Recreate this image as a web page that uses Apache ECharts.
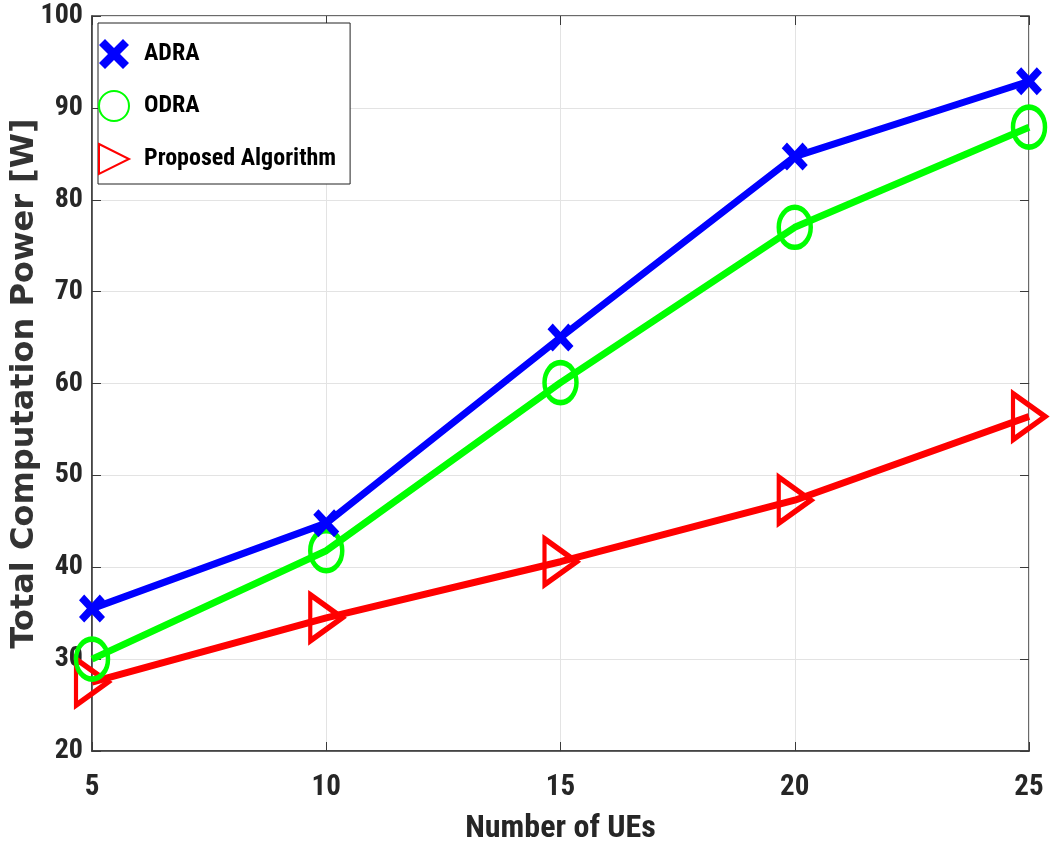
<!DOCTYPE html>
<html>
<head>
<meta charset="utf-8">
<script src="https://cdn.jsdelivr.net/npm/echarts@6/dist/echarts.min.js"></script>
<style>
  html, body { margin: 0; padding: 0; background: #fff; }
  #main { width: 1053px; height: 855px; }
</style>
</head>
<body>
<div id="main"></div>
<script>
const ues = [5, 10, 15, 20, 25];
const adra = [35.5, 44.8, 65, 84.7, 92.9];
const odra = [30, 41.8, 60.1, 77, 87.9];
const proposed = [27.5, 34.5, 40.6, 47.3, 56.4];
const yTicks = [20, 30, 40, 50, 60, 70, 80, 90, 100];

const font = "'Roboto Condensed', 'Liberation Sans', sans-serif";
const crossPath = 'path://M2,0 L5,3 L8,0 L10,2 L7,5 L10,8 L8,10 L5,7 L2,10 L0,8 L3,5 L0,2 Z';
const triPath = 'path://M0,0 L1,0.5 L0,1 Z';
const axisColor = '#3a3a3a';

function pairs(vals) {
  return ues.map((u, i) => [u, vals[i]]);
}

// plain axis used only for the ticks on the top and right sides of the box
function mirrorAxis(pos, min, max, step) {
  return {
    type: 'value', position: pos, min: min, max: max, interval: step,
    axisLine: { show: false },
    axisTick: { show: true, inside: true, length: 9, lineStyle: { color: axisColor } },
    axisLabel: { show: false },
    splitLine: { show: false }
  };
}

const dom = document.getElementById('main');
const myChart = echarts.init(dom);
const option = {
  animation: false,
  backgroundColor: '#fff',
  grid: {
    left: 92,
    right: 24,
    top: 16,
    bottom: 104,
    containLabel: false,
    outerBoundsMode: 'none',
    show: true,
    borderColor: axisColor,
    borderWidth: 1.5
  },
  legend: {
    left: 98,
    top: 23,
    orient: 'vertical',
    backgroundColor: '#fff',
    borderColor: '#222',
    borderWidth: 1,
    padding: [16, 14, 9, 0],
    itemGap: 21,
    itemWidth: 30,
    itemHeight: 38,
    textStyle: { fontFamily: font, fontWeight: 'bold', fontSize: 24, color: '#000', padding: [0, 0, 0, 10] },
    data: [
      { name: 'ADRA', icon: crossPath },
      { name: 'ODRA', icon: 'circle' },
      { name: 'Proposed Algorithm', icon: triPath }
    ]
  },
  xAxis: [
    {
      type: 'value',
      min: 5,
      max: 25,
      interval: 5,
      name: 'Number of UEs',
      nameLocation: 'middle',
      nameGap: 62,
      nameMoveOverlap: false,
      nameTextStyle: { fontFamily: font, fontWeight: 'bold', fontSize: 32, color: '#262626' },
      axisLine: { show: true, lineStyle: { color: axisColor, width: 1.5 } },
      axisTick: { show: true, inside: true, length: 9, lineStyle: { color: axisColor } },
      axisLabel: { fontFamily: font, fontWeight: 'bold', fontSize: 29, color: '#262626', margin: 22 },
      splitLine: { show: true, lineStyle: { color: '#e3e3e3', width: 1 } }
    },
    mirrorAxis('top', 5, 25, 5)
  ],
  yAxis: [
    {
      type: 'value',
      min: yTicks[0],
      max: yTicks[yTicks.length - 1],
      interval: 10,
      name: 'Total Computation Power [W]',
      nameLocation: 'middle',
      nameGap: 51,
      nameMoveOverlap: false,
      nameTextStyle: { fontFamily: "'DejaVu Sans', sans-serif", fontWeight: 'bold', fontSize: 32, color: '#333' },
      axisLine: { show: true, lineStyle: { color: axisColor, width: 1.5 } },
      axisTick: { show: true, inside: true, length: 9, lineStyle: { color: axisColor } },
      axisLabel: { fontFamily: font, fontWeight: 'bold', fontSize: 28, color: '#262626', margin: 9 },
      splitLine: { show: true, lineStyle: { color: '#e3e3e3', width: 1 } }
    },
    mirrorAxis('right', yTicks[0], yTicks[yTicks.length - 1], 10)
  ],
  series: [
    {
      name: 'ADRA',
      type: 'line',
      data: pairs(adra),
      lineStyle: { color: '#0000ff', width: 7 },
      symbol: crossPath,
      symbolSize: [26, 28],
      itemStyle: { color: '#0000ff' },
      z: 3
    },
    {
      name: 'ODRA',
      type: 'line',
      data: pairs(odra),
      lineStyle: { color: '#00ff00', width: 7 },
      symbol: 'circle',
      symbolSize: [32, 40],
      itemStyle: { color: 'rgba(0,0,0,0)', borderColor: '#00ff00', borderWidth: 5 },
      z: 2
    },
    {
      name: 'Proposed Algorithm',
      type: 'line',
      data: pairs(proposed),
      lineStyle: { color: '#ff0000', width: 7 },
      symbol: triPath,
      symbolSize: [32, 46],
      symbolKeepAspect: false,
      itemStyle: { color: 'rgba(0,0,0,0)', borderColor: '#ff0000', borderWidth: 5 },
      z: 1
    }
  ]
};
myChart.setOption(option, true);
</script>
</body>
</html>
